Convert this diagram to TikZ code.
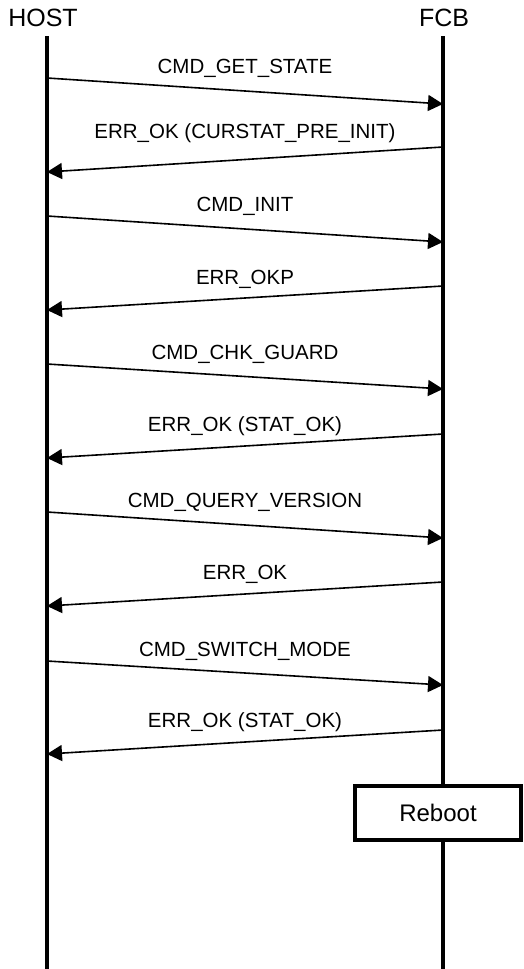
\documentclass[tikz,border=0pt]{standalone}
\usepackage{fontspec}
\setmainfont{Liberation Sans}
\usetikzlibrary{arrows.meta}
\begin{document}
\begin{tikzpicture}[x=1pt,y=-1pt,
  lifeline/.style={line width=4pt},
  msg/.style={line width=1.6pt,-{Triangle[length=15pt 0,width=16pt 0]}},
  msglabel/.style={anchor=base,font=\fontsize{20.5}{24}\selectfont,inner sep=0pt},
  actor/.style={anchor=base,font=\fontsize{25}{30}\selectfont,inner sep=0pt},
  actionbox/.style={draw,line width=4pt,fill=white,minimum width=166pt,minimum height=54pt,inner sep=0pt,font=\fontsize{24}{28}\selectfont}]
\useasboundingbox (0,0) rectangle (523,969);
\node[actor] (host) at (43,27) {HOST};
\node[actor] (fcb) at (444,27) {FCB};
\coordinate (htop) at (47,36);
\coordinate (hbot) at (47,969);
\coordinate (ftop) at (443,36);
\coordinate (fbot) at (443,969);
\draw[lifeline] (htop) -- (hbot);
\draw[lifeline] (ftop) -- (fbot);
% messages
\foreach \i/\ys/\ye/\yl/\dir/\txt in {
  1/78/104/73/r/CMD\_GET\_STATE,
  2/147/172/138/l/ERR\_OK (CURSTAT\_PRE\_INIT),
  3/216/242/211/r/CMD\_INIT,
  4/286/310/284/l/ERR\_OKP,
  5/364/389/359/r/CMD\_CHK\_GUARD,
  6/434/458/431/l/ERR\_OK (STAT\_OK),
  7/512/538/507/r/CMD\_QUERY\_VERSION,
  8/582/606/579/l/ERR\_OK,
  9/661/685/656/r/CMD\_SWITCH\_MODE,
  10/730/754/727/l/ERR\_OK (STAT\_OK)}{
  \if\dir r
    \coordinate (s\i) at (47,\ys);
    \coordinate (e\i) at (443,\ye);
  \else
    \coordinate (s\i) at (443,\ys);
    \coordinate (e\i) at (47,\ye);
  \fi
  \draw[msg] (s\i) -- (e\i);
  \node[msglabel] (l\i) at (245,\yl) {\txt};
}
\node[actionbox] (reboot) at (438,813) {Reboot};
\end{tikzpicture}
\end{document}
